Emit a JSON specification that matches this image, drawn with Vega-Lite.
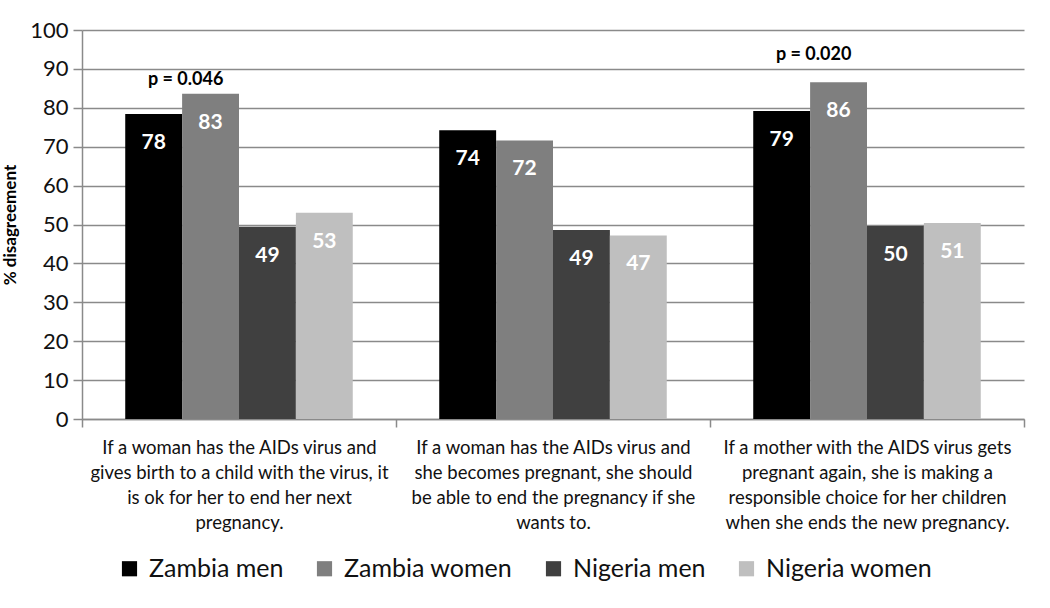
{
  "$schema": "https://vega.github.io/schema/vega-lite/v6.json",
  "autosize": {"type": "none"},
  "width": 942,
  "height": 389,
  "padding": {"left": 82, "top": 30, "right": 26, "bottom": 189},
  "background": "white",
  "config": {
    "font": "Lato",
    "view": {"stroke": null},
    "axis": {"domainColor": "#8a8a8a", "tickColor": "#8a8a8a", "gridColor": "#8a8a8a", "domainWidth": 1.5, "tickWidth": 1.5, "gridWidth": 1.5}
  },
  "datasets": {
    "bars": [
      {"q": "If a woman has the AIDs virus and|gives birth to a child with the virus, it|is ok for her to end her next|pregnancy.", "group": "Zambia men", "value": 78.4, "label": "78"},
      {"q": "If a woman has the AIDs virus and|gives birth to a child with the virus, it|is ok for her to end her next|pregnancy.", "group": "Zambia women", "value": 83.6, "label": "83"},
      {"q": "If a woman has the AIDs virus and|gives birth to a child with the virus, it|is ok for her to end her next|pregnancy.", "group": "Nigeria men", "value": 49.4, "label": "49"},
      {"q": "If a woman has the AIDs virus and|gives birth to a child with the virus, it|is ok for her to end her next|pregnancy.", "group": "Nigeria women", "value": 53.0, "label": "53"},
      {"q": "If a woman has the AIDs virus and|she becomes pregnant, she should|be able to end the pregnancy if she|wants to.", "group": "Zambia men", "value": 74.2, "label": "74"},
      {"q": "If a woman has the AIDs virus and|she becomes pregnant, she should|be able to end the pregnancy if she|wants to.", "group": "Zambia women", "value": 71.6, "label": "72"},
      {"q": "If a woman has the AIDs virus and|she becomes pregnant, she should|be able to end the pregnancy if she|wants to.", "group": "Nigeria men", "value": 48.6, "label": "49"},
      {"q": "If a woman has the AIDs virus and|she becomes pregnant, she should|be able to end the pregnancy if she|wants to.", "group": "Nigeria women", "value": 47.2, "label": "47"},
      {"q": "If a mother with the AIDS virus gets|pregnant again, she is making a|responsible choice for her children|when she ends the new pregnancy.", "group": "Zambia men", "value": 79.2, "label": "79"},
      {"q": "If a mother with the AIDS virus gets|pregnant again, she is making a|responsible choice for her children|when she ends the new pregnancy.", "group": "Zambia women", "value": 86.6, "label": "86"},
      {"q": "If a mother with the AIDS virus gets|pregnant again, she is making a|responsible choice for her children|when she ends the new pregnancy.", "group": "Nigeria men", "value": 49.6, "label": "50"},
      {"q": "If a mother with the AIDS virus gets|pregnant again, she is making a|responsible choice for her children|when she ends the new pregnancy.", "group": "Nigeria women", "value": 50.4, "label": "51"}
    ],
    "pvals": [
      {"q": "If a woman has the AIDs virus and|gives birth to a child with the virus, it|is ok for her to end her next|pregnancy.", "group": "Zambia men", "value": 87.2, "text": "p = 0.046"},
      {"q": "If a mother with the AIDS virus gets|pregnant again, she is making a|responsible choice for her children|when she ends the new pregnancy.", "group": "Zambia men", "value": 93.6, "text": "p = 0.020"}
    ]
  },
  "encoding": {
    "x": {
      "field": "q", "type": "nominal", "sort": null,
      "scale": {"paddingInner": 0, "paddingOuter": 0},
      "axis": {
        "title": null, "labelAngle": 0, "labelExpr": "split(datum.label, '|')",
        "labelFontSize": 18.5, "labelColor": "#111", "labelLimit": 400, "labelLineHeight": 25,
        "labelPadding": 11, "tickBand": "extent", "tickSize": 8, "labelBaseline": "top"
      }
    },
    "xOffset": {
      "field": "group", "type": "nominal",
      "sort": ["Zambia men", "Zambia women", "Nigeria men", "Nigeria women"],
      "scale": {"paddingInner": 0, "paddingOuter": 0.76}
    },
    "y": {
      "field": "value", "type": "quantitative",
      "scale": {"domain": [0, 100], "nice": false},
      "axis": {
        "values": [0, 10, 20, 30, 40, 50, 60, 70, 80, 90, 100],
        "title": "% disagreement", "titleFontSize": 17, "titleFontWeight": "bold", "titleColor": "#000",
        "titlePadding": 10, "labelFontSize": 22, "labelColor": "#111", "labelPadding": 5, "tickSize": 9, "grid": true
      }
    }
  },
  "layer": [
    {
      "data": {"name": "bars"},
      "mark": {"type": "bar"},
      "encoding": {
        "color": {
          "field": "group", "type": "nominal",
          "sort": ["Zambia men", "Zambia women", "Nigeria men", "Nigeria women"],
          "scale": {"domain": ["Zambia men", "Zambia women", "Nigeria men", "Nigeria women"], "range": ["#000000", "#7f7f7f", "#404040", "#bfbfbf"]},
          "legend": {
            "title": null, "orient": "none", "direction": "horizontal", "legendX": 35, "legendY": 526,
            "symbolType": "square", "symbolSize": 230, "symbolStrokeWidth": 0, "labelFontSize": 25, "labelColor": "#111",
            "columnPadding": 28, "labelOffset": 7, "labelLimit": 300
          }
        }
      }
    },
    {
      "data": {"name": "bars"},
      "mark": {"type": "text", "color": "white", "fontSize": 21, "fontWeight": "bold", "baseline": "middle", "dy": 29},
      "encoding": {
        "text": {"field": "label"}
      }
    },
    {
      "data": {"name": "pvals"},
      "mark": {"type": "text", "color": "black", "fontSize": 18, "fontWeight": "bold", "baseline": "middle", "dx": 32},
      "encoding": {
        "text": {"field": "text"}
      }
    }
  ]
}
